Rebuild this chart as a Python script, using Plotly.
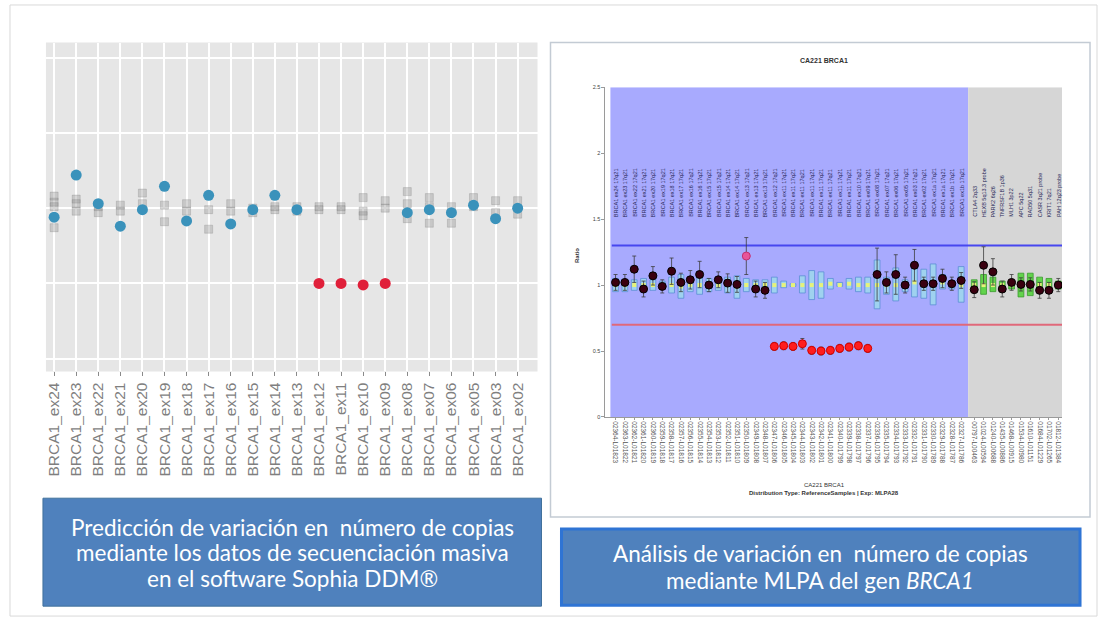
import plotly.graph_objects as go

W, H = 1103, 624
def px(x): return x / W
def py(y): return 1 - y / H

# ---------------- Left panel (Sophia DDM) data ----------------
exons = ["BRCA1_ex24", "BRCA1_ex23", "BRCA1_ex22", "BRCA1_ex21", "BRCA1_ex20", "BRCA1_ex19",
         "BRCA1_ex18", "BRCA1_ex17", "BRCA1_ex16", "BRCA1_ex15", "BRCA1_ex14", "BRCA1_ex13",
         "BRCA1_ex12", "BRCA1_ex11", "BRCA1_ex10", "BRCA1_ex09", "BRCA1_ex08", "BRCA1_ex07",
         "BRCA1_ex06", "BRCA1_ex05", "BRCA1_ex03", "BRCA1_ex02"]
sample_ratio = [0.94, 1.22, 1.03, 0.88, 0.99, 1.145, 0.915, 1.085, 0.895, 0.99, 1.085, 0.99,
                0.50, 0.50, 0.49, 0.50, 0.97, 0.99, 0.97, 1.02, 0.93, 1.00]
sample_deleted = [False] * 12 + [True] * 4 + [False] * 6
reference_ratios = [[1.08, 1.04, 1.01, 0.87], [1.06, 1.03, 0.98], [1.01, 0.97], [1.02, 0.98],
                    [1.10, 1.03], [1.02, 0.91], [1.03, 0.98], [0.99, 0.86], [1.03, 0.98],
                    [0.97, 1.00], [0.99, 1.01], [1.01, 0.98], [1.01, 0.99], [1.01, 0.99],
                    [1.07, 0.98, 0.95], [1.05, 1.00], [1.11, 1.03, 0.93], [1.07, 1.01, 0.90],
                    [1.01, 0.90], [1.07, 1.01], [1.05, 0.97], [1.05, 0.96]]

# ---------------- Right panel (MLPA, Coffalyser) data ----------------
probe_pos = list(range(1, 39)) + [39.4 + k for k in range(10)]
probe_names = ["BRCA1 ex24 17q21", "BRCA1 ex23 17q21", "BRCA1 ex22 17q21", "BRCA1 ex21 17q21",
               "BRCA1 ex20 17q21", "BRCA1 ex19 17q21", "BRCA1 ex18 17q21", "BRCA1 ex17 17q21",
               "BRCA1 ex16 17q21", "BRCA1 ex16 17q21", "BRCA1 ex15 17q21", "BRCA1 ex15 17q21",
               "BRCA1 ex14 17q21", "BRCA1 ex14 17q21", "BRCA1 ex13 17q21", "BRCA1 ex13 17q21",
               "BRCA1 ex13 17q21", "BRCA1 ex12 17q21", "BRCA1 ex11 17q21", "BRCA1 ex11 17q21",
               "BRCA1 ex11 17q21", "BRCA1 ex11 17q21", "BRCA1 ex11 17q21", "BRCA1 ex11 17q21",
               "BRCA1 ex11 17q21", "BRCA1 ex11 17q21", "BRCA1 ex10 17q21", "BRCA1 ex09 17q21",
               "BRCA1 ex08 17q21", "BRCA1 ex07 17q21", "BRCA1 ex06 17q21", "BRCA1 ex05 17q21",
               "BRCA1 ex03 17q21", "BRCA1 ex02 17q21", "BRCA1 ex1a 17q21", "BRCA1 ex1a 17q21",
               "BRCA1 ex1b 17q21", "BRCA1 ex1b 17q21",
               "CTLA4 2q33", "HEXB 5q13.3 probe", "PARK2 6q26", "TNFRSF1B 1p36",
               "MLH1 3p22", "APC 5q22", "RAD50 5q31", "CASR 3q21 probe",
               "KRIT1 7q21", "PAH 12q23 probe"]
probe_ids = ["02364-L01823", "02363-L01822", "02362-L01821", "02361-L01820", "02360-L01819",
             "02359-L01818", "02358-L01817", "02357-L01816", "02356-L01815", "02355-L01814",
             "02354-L01813", "02353-L01812", "02352-L01811", "02351-L01810", "02350-L01809",
             "02349-L01808", "02348-L01807", "02347-L01806", "02346-L01805", "02345-L01804",
             "02344-L01803", "02343-L01802", "02342-L01801", "02341-L01800", "02340-L01799",
             "02339-L01798", "02338-L01797", "02337-L01796", "02336-L01795", "02335-L01794",
             "02334-L01793", "02333-L01792", "02332-L01791", "02331-L01790", "02330-L01789",
             "02329-L01788", "02328-L01787", "02327-L01786",
             "00797-L00463", "01024-L00594", "01240-L00688", "01435-L00886", "01468-L00915",
             "01534-L00980", "01610-L01151", "01684-L01229", "01702-L01265", "01812-L01384"]
probe_ratio = [1.02, 1.02, 1.12, 0.97, 1.07, 0.99, 1.105, 1.02, 1.04, 1.08, 1.00, 1.04, 1.015, 1.005,
               1.22, 0.97, 0.96,
               0.535, 0.54, 0.535, 0.555, 0.505, 0.50, 0.505, 0.52, 0.53, 0.54, 0.52,
               1.08, 1.02, 1.08, 1.00, 1.15, 1.01, 1.01, 1.05, 1.01, 1.035,
               0.965, 1.15, 1.10, 0.97, 1.02, 1.005, 1.005, 0.96, 0.96, 1.00]
probe_status = ["normal"] * 14 + ["high"] + ["normal"] * 2 + ["loss"] * 11 + ["normal"] * 20
probe_err = [0.06, 0.06, 0.10, 0.06, 0.07, 0.05, 0.10, 0.07, 0.07, 0.10, 0.05, 0.06, 0.07, 0.06,
             0.14, 0.06, 0.06,
             0.03, 0.03, 0.03, 0.04, 0.03, 0.03, 0.03, 0.03, 0.03, 0.03, 0.03,
             0.20, 0.08, 0.15, 0.06, 0.12, 0.05, 0.05, 0.07, 0.05, 0.06,
             0.06, 0.14, 0.10, 0.06, 0.06, 0.05, 0.05, 0.06, 0.06, 0.05]
box_low = [0.95, 0.95, 0.96, 0.95, 0.96, 0.97, 0.94, 0.90, 0.95, 0.93, 0.95, 0.96, 0.94, 0.90,
           0.95, 0.96, 0.96, 0.94, 0.98, 0.99, 0.94, 0.89, 0.90, 0.97, 0.99, 0.97, 0.95, 0.94,
           0.82, 0.93, 0.88, 0.95, 0.91, 0.90, 0.85, 0.97, 0.97, 0.87,
           0.95, 0.93, 0.95, 0.97, 0.97, 0.91, 0.92, 0.95, 0.96, 0.97]
box_high = [1.05, 1.04, 1.04, 1.05, 1.04, 1.03, 1.06, 1.08, 1.06, 1.07, 1.05, 1.05, 1.06, 1.07,
            1.05, 1.04, 1.04, 1.06, 1.03, 1.01, 1.07, 1.11, 1.10, 1.05, 1.02, 1.05, 1.06, 1.06,
            1.19, 1.06, 1.13, 1.04, 1.15, 1.12, 1.16, 1.08, 1.03, 1.14,
            1.04, 1.08, 1.06, 1.03, 1.03, 1.09, 1.09, 1.06, 1.05, 1.03]
box_median = [1.00, 1.00, 1.00, 1.00, 1.00, 1.00, 1.00, 0.99, 1.00, 1.00, 1.00, 1.00, 1.00, 0.99,
              1.00, 1.00, 1.00, 1.00, 1.00, 1.00, 1.00, 1.00, 1.00, 1.01, 1.00, 1.01, 1.00, 1.00,
              1.00, 1.00, 1.00, 1.00, 1.02, 1.01, 1.00, 1.02, 1.00, 1.00,
              1.00, 1.00, 1.00, 1.00, 1.00, 1.00, 1.00, 1.00, 1.00, 1.00]
n_target_probes = 38
upper_threshold = 1.3
lower_threshold = 0.7

caption_left = ["Predicción de variación en  número de copias",
                "mediante los datos de secuenciación masiva",
                "en el software Sophia DDM®"]
caption_right = ["Análisis de variación en  número de copias",
                 "mediante MLPA del gen <i>BRCA1</i>"]

fig = go.Figure()

# ---- left: reference samples (gray squares)
rx, ry = [], []
for ex, vals in zip(exons, reference_ratios):
    for v in vals:
        rx.append(ex)
        ry.append(v)
fig.add_trace(go.Scatter(x=rx, y=ry, mode="markers", xaxis="x", yaxis="y",
                         marker=dict(symbol="square", size=8, color="rgba(140,140,140,0.35)",
                                     line=dict(color="rgba(120,120,120,0.25)", width=1)),
                         showlegend=False, hoverinfo="skip"))
fig.add_trace(go.Scatter(x=[e for e, d in zip(exons, sample_deleted) if not d],
                         y=[v for v, d in zip(sample_ratio, sample_deleted) if not d],
                         mode="markers", xaxis="x", yaxis="y",
                         marker=dict(size=11, color="#3a92bb"), showlegend=False))
fig.add_trace(go.Scatter(x=[e for e, d in zip(exons, sample_deleted) if d],
                         y=[v for v, d in zip(sample_ratio, sample_deleted) if d],
                         mode="markers", xaxis="x", yaxis="y",
                         marker=dict(size=11, color="#e0203a"), showlegend=False))

# ---- right: reference distribution boxes
box_fill = ["#9fd2ef" if i < n_target_probes else "#62d34c" for i in range(len(probe_pos))]
box_line = ["#5d8ed6" if i < n_target_probes else "#399a2c" for i in range(len(probe_pos))]
fig.add_trace(go.Bar(x=probe_pos, y=[h - l for l, h in zip(box_low, box_high)], base=box_low,
                     width=0.62, xaxis="x2", yaxis="y2",
                     marker=dict(color=box_fill, line=dict(color=box_line, width=0.8)),
                     showlegend=False))
fig.add_trace(go.Scatter(x=probe_pos, y=box_median, mode="markers", xaxis="x2", yaxis="y2",
                         marker=dict(symbol="square", size=4, color="#e6f27a"), showlegend=False))

# thresholds
fig.add_trace(go.Scatter(x=[probe_pos[0] - 0.4, probe_pos[-1] + 0.4],
                         y=[upper_threshold, upper_threshold], mode="lines", xaxis="x2", yaxis="y2",
                         line=dict(color="#4747ef", width=2), showlegend=False))
fig.add_trace(go.Scatter(x=[probe_pos[0] - 0.4, probe_pos[-1] + 0.4],
                         y=[lower_threshold, lower_threshold], mode="lines", xaxis="x2", yaxis="y2",
                         line=dict(color="#e0687a", width=2), showlegend=False))

status_style = {"normal": ("#3a0010", "#000000"), "high": ("#e8559a", "#c03070"),
                "loss": ("#ff1e1e", "#d00000")}
for st, (fc, lc) in status_style.items():
    idx = [i for i, s in enumerate(probe_status) if s == st]
    fig.add_trace(go.Scatter(
        x=[probe_pos[i] for i in idx], y=[probe_ratio[i] for i in idx], mode="markers",
        xaxis="x2", yaxis="y2",
        error_y=dict(type="data", array=[probe_err[i] for i in idx], color="#3c3c3c",
                     thickness=0.8, width=2),
        marker=dict(size=8, color=fc, line=dict(color=lc, width=1)), showlegend=False))

shapes = []
shapes.append(dict(type="rect", xref="paper", yref="paper", x0=px(9), x1=px(1097), y0=py(619),
                   y1=py(2), line=dict(color="#d9d9d9", width=1), fillcolor="rgba(0,0,0,0)",
                   layer="below"))
shapes.append(dict(type="rect", xref="x domain", yref="y domain", x0=0, x1=1, y0=0, y1=1,
                   fillcolor="#e6e6e6", line=dict(width=0), layer="below"))
shapes.append(dict(type="rect", xref="paper", yref="paper", x0=px(550), x1=px(1090), y0=py(519),
                   y1=py(40), fillcolor="white", line=dict(color="#c3cbd4", width=1.5),
                   layer="below"))
shapes.append(dict(type="rect", xref="x2", yref="y2", x0=0.45, x1=38.75, y0=0, y1=2.5,
                   fillcolor="#a8aafe", line=dict(width=0), layer="below"))
shapes.append(dict(type="rect", xref="x2", yref="y2", x0=38.75, x1=48.8, y0=0, y1=2.5,
                   fillcolor="#d6d6d6", line=dict(width=0), layer="below"))
shapes.append(dict(type="rect", xref="paper", yref="paper", x0=px(42), x1=px(541), y0=py(609),
                   y1=py(500), fillcolor="#4f81bd", line=dict(color="#41719c", width=1),
                   layer="below"))
shapes.append(dict(type="rect", xref="paper", yref="paper", x0=px(561), x1=px(1080), y0=py(608),
                   y1=py(531), fillcolor="#4f81bd", line=dict(color="#2f74d4", width=3),
                   layer="below"))

annotations = []
for p, name in zip(probe_pos, probe_names):
    annotations.append(dict(x=p, y=1.5, xref="x2", yref="y2", text=name, textangle=-90,
                            showarrow=False, yanchor="bottom", xanchor="center",
                            font=dict(size=5.5, color="#2b2b5a", family="Liberation Sans")))

def note(x, y, text, size, angle=0, color="#333", family="Liberation Sans"):
    return dict(x=px(x), y=py(y), xref="paper", yref="paper", text=text, textangle=angle,
                showarrow=False, xanchor="center", yanchor="middle", align="center",
                font=dict(size=size, color=color, family=family))

annotations.append(note(824, 58, "<b>CA221 BRCA1</b>", 7))
annotations.append(note(576, 255, "<b>Ratio</b>", 6, angle=-90))
annotations.append(note(824, 487, "CA221 BRCA1", 6))
annotations.append(note(824, 495, "<b>Distribution Type: ReferenceSamples | Exp: MLPA28</b>", 6))
cap_family = "Lato, Liberation Sans Narrow, sans-serif"
for line, yy in zip(caption_left, [530, 555, 581]):
    annotations.append(note(292, yy, line, 22.5, color="white", family=cap_family))
for line, yy in zip(caption_right, [556, 583]):
    annotations.append(note(820, yy, line, 22.5, color="white", family=cap_family))

fig.update_layout(
    width=W, height=H, margin=dict(l=0, r=0, t=0, b=0),
    paper_bgcolor="white", plot_bgcolor="rgba(0,0,0,0)",
    barmode="overlay", showlegend=False,
    xaxis=dict(domain=[px(45), px(537)], anchor="y", type="category", categoryorder="array",
               categoryarray=exons, range=[-0.37, 21.9], tickangle=-90,
               tickfont=dict(size=15.5, color="#7f7f7f", family="Liberation Sans"),
               showgrid=True, gridcolor="white", gridwidth=1.6, ticks="outside", ticklen=4,
               tickcolor="#8a8a8a", showline=False, zeroline=False),
    yaxis=dict(domain=[py(372), py(40)], anchor="x", range=[-0.085, 2.1],
               tickvals=[0, 0.5, 1, 1.5, 2], showticklabels=False, showgrid=True,
               gridcolor="white", gridwidth=1.6, zeroline=False, ticks=""),
    xaxis2=dict(domain=[px(605), px(1062)], anchor="y2", range=[-0.08, 48.8],
                tickvals=probe_pos, ticktext=probe_ids, tickangle=90,
                tickfont=dict(size=6.5, color="#555", family="Liberation Sans"),
                showgrid=False, zeroline=False, showline=True, linecolor="#9a9a9a",
                ticks="outside", ticklen=2, tickcolor="#9a9a9a"),
    yaxis2=dict(domain=[py(418), py(85)], anchor="x2", range=[0, 2.5],
                tickvals=[0, 0.5, 1, 1.5, 2, 2.5], ticktext=["0", "0.5", "1", "1.5", "2", "2.5"],
                tickfont=dict(size=5.5, color="#444", family="Liberation Sans"),
                showgrid=False, zeroline=False, showline=True, linecolor="#9a9a9a",
                ticks="outside", ticklen=3, tickcolor="#9a9a9a"),
    shapes=shapes, annotations=annotations,
)

fig.write_html("out.html", config={"displayModeBar": False},
               post_script="document.body.style.margin='0';document.body.style.overflow='hidden';")
